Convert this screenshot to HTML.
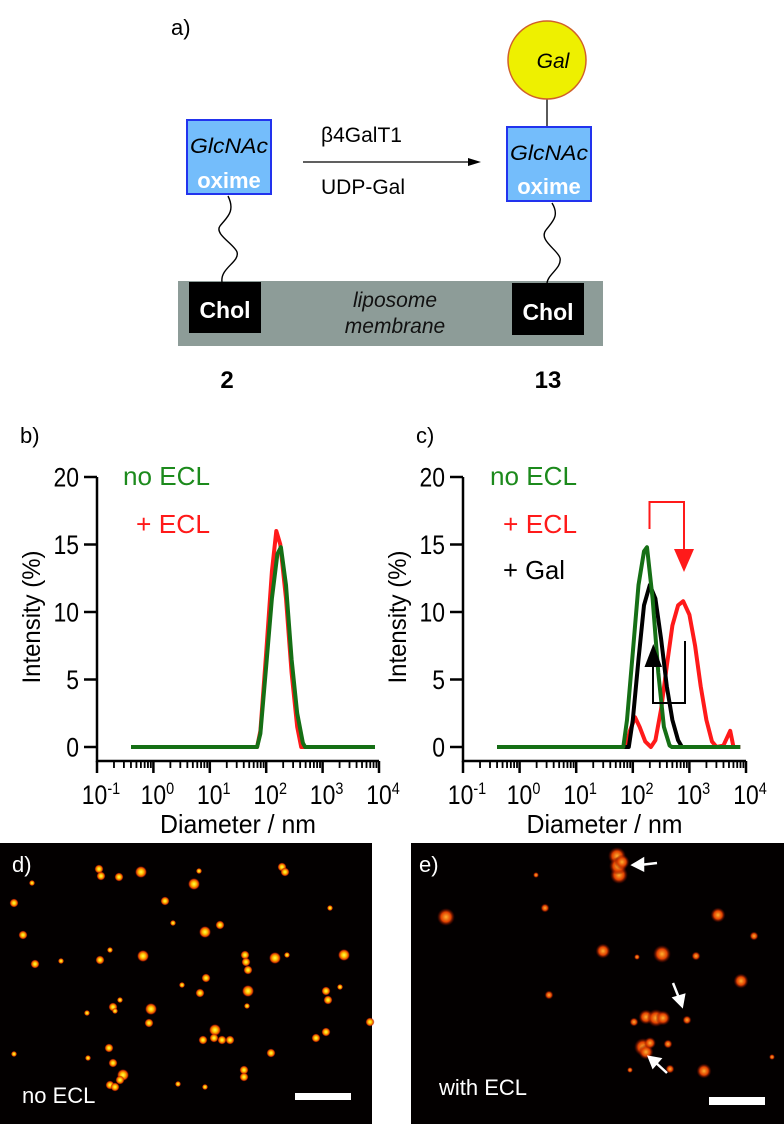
<!DOCTYPE html>
<html><head><meta charset="utf-8"><style>
html,body{margin:0;padding:0;background:#fff;}
svg{display:block;font-family:"Liberation Sans",sans-serif;}
</style></head><body>
<svg id="fig" width="784" height="1124" viewBox="0 0 784 1124" xmlns="http://www.w3.org/2000/svg">
<defs>
<radialGradient id="spot" cx="50%" cy="50%" r="50%">
<stop offset="0" stop-color="#ffff50"/><stop offset="0.4" stop-color="#ffc000"/><stop offset="0.75" stop-color="#e04000"/><stop offset="1" stop-color="#800000" stop-opacity="0"/>
</radialGradient>
<radialGradient id="spotdim" cx="50%" cy="50%" r="50%">
<stop offset="0" stop-color="#ffb030"/><stop offset="0.55" stop-color="#e04000"/><stop offset="1" stop-color="#600000" stop-opacity="0"/>
</radialGradient>
</defs>

<g>
<text x="171" y="35" font-size="22">a)</text>
<rect x="178" y="281" width="425" height="65" fill="#8d9c98"/>
<text x="395" y="307" font-size="21" font-style="italic" text-anchor="middle" fill="#111">liposome</text>
<text x="395" y="333" font-size="21" font-style="italic" text-anchor="middle" fill="#111">membrane</text>
<rect x="189" y="282" width="72" height="51" fill="#000"/>
<text x="225" y="318" font-size="23" font-weight="bold" fill="#fff" text-anchor="middle">Chol</text>
<rect x="512" y="283" width="72" height="52" fill="#000"/>
<text x="548" y="320" font-size="23" font-weight="bold" fill="#fff" text-anchor="middle">Chol</text>
<path d="M228,196 C236,212 226,218 220,226 C214,234 234,244 237,252 C240,262 220,268 222,282" fill="none" stroke="#000" stroke-width="1.4"/>
<path d="M552,203 C560,216 552,222 546,230 C538,240 558,250 560,258 C562,268 548,274 547,283" fill="none" stroke="#000" stroke-width="1.4"/>
<rect x="187" y="120" width="84" height="74" fill="#74bdfb" stroke="#2233ee" stroke-width="2"/>
<text x="229" y="153" font-size="21" font-style="italic" text-anchor="middle" textLength="78" lengthAdjust="spacingAndGlyphs">GlcNAc</text>
<text x="229" y="188" font-size="22" font-weight="bold" fill="#fff" text-anchor="middle">oxime</text>
<line x1="547" y1="99" x2="547" y2="127" stroke="#222" stroke-width="1.5"/>
<circle cx="547" cy="60" r="39" fill="#eef000" stroke="#d0602a" stroke-width="1.5"/>
<text x="553" y="68" font-size="21" font-style="italic" text-anchor="middle">Gal</text>
<rect x="507" y="127" width="84" height="74" fill="#74bdfb" stroke="#2233ee" stroke-width="2"/>
<text x="549" y="160" font-size="21" font-style="italic" text-anchor="middle" textLength="78" lengthAdjust="spacingAndGlyphs">GlcNAc</text>
<text x="549" y="194" font-size="22" font-weight="bold" fill="#fff" text-anchor="middle">oxime</text>
<line x1="303" y1="162" x2="470" y2="162" stroke="#000" stroke-width="1.3"/>
<polygon points="468,158 481,162 468,166" fill="#000"/>
<text x="321" y="142" font-size="21">β4GalT1</text>
<text x="321" y="194" font-size="21">UDP-Gal</text>
<text x="227" y="388" font-size="24" font-weight="bold" text-anchor="middle">2</text>
<text x="548" y="388" font-size="24" font-weight="bold" text-anchor="middle">13</text>
</g>

<text x="20" y="443" font-size="22">b)</text>
<text x="416" y="443" font-size="22">c)</text>
<g id="chartB"></g>
<g id="chartC"></g>

<polyline points="649.5,529 649.5,502 684,502 684,551" fill="none" stroke="#ff1a1a" stroke-width="2"/>
<polygon points="674,549 694,549 684,572" fill="#ff1a1a"/>
<polyline points="685,641 685,703 653,703 653,666" fill="none" stroke="#000" stroke-width="2"/>
<polygon points="644.5,667 662,667 653.3,644" fill="#000"/>

<rect x="0" y="843" width="372" height="281" fill="#030000"/>
<rect x="411" y="843" width="373" height="281" fill="#030000"/>
<g id="spotsD"></g>
<g id="spotsE"></g>
<text x="12" y="872" font-size="22" fill="#fff">d)</text>
<text x="22" y="1103" font-size="22" fill="#fff">no ECL</text>
<rect x="295" y="1093" width="56" height="7" fill="#fff"/>
<text x="419" y="872" font-size="22" fill="#fff">e)</text>
<text x="439" y="1095" font-size="22" fill="#fff">with ECL</text>
<rect x="709" y="1097" width="56" height="8" fill="#fff"/>
<g stroke="#fff" stroke-width="2.5" fill="#fff">
<line x1="657" y1="863" x2="640" y2="865"/>
<polygon points="633,865 643,859 643,870"/>
<line x1="673" y1="983" x2="679" y2="998"/>
<polygon points="682,1006 674,998 684,995"/>
<line x1="667" y1="1073" x2="655" y2="1062"/>
<polygon points="649,1057 660,1059 653,1067"/>
</g>
</svg>
<script>
const yTicks = [0, 5, 10, 15, 20];
const xDecades = [-1, 0, 1, 2, 3, 4];
const bGreenD = [0.4, 69, 79, 100, 126, 158, 182, 224, 282, 355, 447, 490, 8500];
const bGreenI = [0, 0, 1, 6, 11, 14.3, 14.8, 12, 6.5, 2.5, 0.3, 0, 0];
const bRedD = [0.4, 69, 79, 100, 126, 151, 178, 224, 282, 355, 417, 8500];
const bRedI = [0, 0, 1.2, 7, 13, 16, 15, 11, 5.5, 1.5, 0, 0];
const cGreenD = [0.4, 68, 79, 100, 126, 158, 178, 224, 282, 355, 447, 490, 7900];
const cGreenI = [0, 0, 2, 7, 12, 14.5, 14.8, 11, 5.5, 1.5, 0.1, 0, 0];
const cBlackD = [0.4, 85, 100, 126, 158, 200, 251, 316, 398, 501, 631, 741, 7900];
const cBlackI = [0, 0, 2, 6.5, 10.5, 12, 11, 8, 4.5, 2, 0.5, 0, 0];
const cRedD = [0.4, 76, 89, 110, 132, 166, 209, 251, 316, 398, 501, 631, 776, 1000, 1259, 1585, 1995, 2512, 3020, 3981, 5248, 6026, 7900];
const cRedI = [0, 0, 1.2, 2.2, 1.5, 0.4, 0, 0.5, 2.8, 6, 9, 10.5, 10.8, 9.8, 7.5, 4.5, 2, 0.4, 0, 0.1, 1.2, 0, 0];

const NS = 'http://www.w3.org/2000/svg';
function mk(tag, attrs, parent) {
  const e = document.createElementNS(NS, tag);
  for (const k in attrs) e.setAttribute(k, attrs[k]);
  parent.appendChild(e);
  return e;
}
function drawChart(g, x0, x1, legend, series) {
  const yTop = 477, yBot = 747, axisY = 761;
  const xs = d => x0 + (Math.log10(d) + 1) / 5 * (x1 - x0);
  const ys = v => yBot - v / 20 * (yBot - yTop);
  const ax = mk('path', {d: `M${x0},${yTop} V${axisY} H${x1}`, fill: 'none', stroke: '#000', 'stroke-width': 2.5}, g);
  
  
  yTicks.forEach(t => {
    const tk = mk('line', {x1: x0 - 13, x2: x0, y1: ys(t), y2: ys(t), stroke: '#000', 'stroke-width': 2.5}, g);
    
    
    const lb = mk('text', {x: x0 - 18, y: ys(t) + 9.5, 'font-size': 27, 'text-anchor': 'end', transform: `translate(${x0 - 18} 0) scale(0.85 1) translate(${-(x0 - 18)} 0)`}, g);
    lb.textContent = t;
    
    
  });
  xDecades.forEach((p, i) => {
    const x = xs(Math.pow(10, p));
    const tk = mk('line', {x1: x, x2: x, y1: axisY, y2: axisY + 12, stroke: '#000', 'stroke-width': 2.5}, g);
    
    
    if (i < xDecades.length - 1) {
      for (let m = 2; m <= 9; m++) {
        const xm = xs(m * Math.pow(10, p));
        const mt = mk('line', {x1: xm, x2: xm, y1: axisY, y2: axisY + 7, stroke: '#000', 'stroke-width': 1.8}, g);
        
        
      }
    }
    const lb = mk('text', {x: x + 4, y: 804, 'font-size': 27, 'text-anchor': 'middle', transform: `translate(${x + 4} 0) scale(0.85 1) translate(${-(x + 4)} 0)`}, g);
    
    
    lb.innerHTML = `10<tspan dy="-10" font-size="17">${p}</tspan>`;
  });
  const xt = mk('text', {x: (x0 + x1) / 2, y: 833, 'font-size': 26, 'text-anchor': 'middle', textLength: 156, lengthAdjust: 'spacingAndGlyphs'}, g);
  xt.textContent = 'Diameter / nm';
  
  
  const yt = mk('text', {x: 0, y: 0, 'font-size': 25, 'text-anchor': 'middle', textLength: 133, lengthAdjust: 'spacingAndGlyphs', transform: `translate(${x0 - 57} 617) rotate(-90)`}, g);
  yt.textContent = 'Intensity (%)';
  
  
  series.forEach(s => {
    const pts = s.d.map((d, i) => `${xs(d).toFixed(1)},${ys(s.v[i]).toFixed(1)}`).join(' ');
    const pl = mk('polyline', {points: pts, fill: 'none', stroke: s.c, 'stroke-width': 4, 'stroke-linejoin': 'round'}, g);
    
    
  });
  legend.forEach(l => {
    const t = mk('text', {x: l.x, y: l.y, 'font-size': 26, fill: l.c, textLength: l.w, lengthAdjust: 'spacingAndGlyphs'}, g);
    t.textContent = l.t;
    
    
  });
}
drawChart(document.getElementById('chartB'), 97, 379,
  [{t: 'no ECL', x: 123, y: 485, c: '#1c8a1c', w: 87}, {t: '+ ECL', x: 136, y: 533, c: '#ff1a1a', w: 74}],
  [{d: bRedD, v: bRedI, c: '#ff1a1a', n: 'line-plus-ecl'}, {d: bGreenD, v: bGreenI, c: '#156f15', n: 'line-no-ecl'}]);
drawChart(document.getElementById('chartC'), 463, 746,
  [{t: 'no ECL', x: 490, y: 485, c: '#1c8a1c', w: 87}, {t: '+ ECL', x: 503, y: 533, c: '#ff1a1a', w: 74}, {t: '+ Gal', x: 503, y: 579, c: '#000', w: 62}],
  [{d: cRedD, v: cRedI, c: '#ff1a1a', n: 'line-plus-ecl'}, {d: cBlackD, v: cBlackI, c: '#000', n: 'line-plus-gal'}, {d: cGreenD, v: cGreenI, c: '#156f15', n: 'line-no-ecl'}]);

const spotsD = [[99,869,3],[101,876,3],[119,877,3],[141,872,4],[194,884,4],[199,871,2],[165,901,3],[14,903,3],[23,935,3],[220,925,3],[205,932,4],[143,956,4],[100,960,3],[110,950,2],[35,964,3],[61,961,2],[245,955,3],[246,962,3],[248,970,3],[275,958,4],[287,955,2],[344,955,4],[206,978,3],[200,993,3],[248,991,4],[247,1006,2],[328,1000,3],[326,991,3],[113,1007,3],[151,1009,4],[182,985,2],[115,1011,2],[87,1013,2],[149,1023,3],[215,1030,4],[214,1038,3],[222,1040,3],[230,1040,3],[203,1040,3],[316,1038,3],[109,1048,3],[113,1063,3],[123,1075,4],[271,1053,3],[244,1070,3],[244,1077,3],[14,1054,2],[178,1084,2],[205,1087,2],[110,1085,3],[115,1087,3],[88,1058,2],[173,923,2],[282,867,3],[285,872,3],[370,1022,3],[326,1032,3],[32,883,2],[120,1080,3],[340,987,2],[330,908,2],[120,1000,2]];
const spotsE = [[617,856,6],[619,875,6],[618,866,6],[622,862,5],[446,917,6],[545,908,3],[718,915,5],[603,951,5],[662,954,6],[696,956,3],[741,981,5],[634,1022,3],[646,1017,5],[656,1018,6],[687,1020,3],[643,1047,6],[646,1052,5],[650,1043,4],[704,1071,5],[670,1069,3],[630,1070,2],[754,936,3],[536,875,2],[549,995,3],[637,957,2],[668,1044,3],[772,1057,2],[663,1018,5]];
function drawSpots(g, arr, grad) {
  arr.forEach(s => {
    const c = mk('circle', {cx: s[0], cy: s[1], r: s[2] * 1.5, fill: grad}, g);
    
    
  });
}
drawSpots(document.getElementById('spotsD'), spotsD, 'url(#spot)');
drawSpots(document.getElementById('spotsE'), spotsE, 'url(#spotdim)');
</script>
</body></html>
